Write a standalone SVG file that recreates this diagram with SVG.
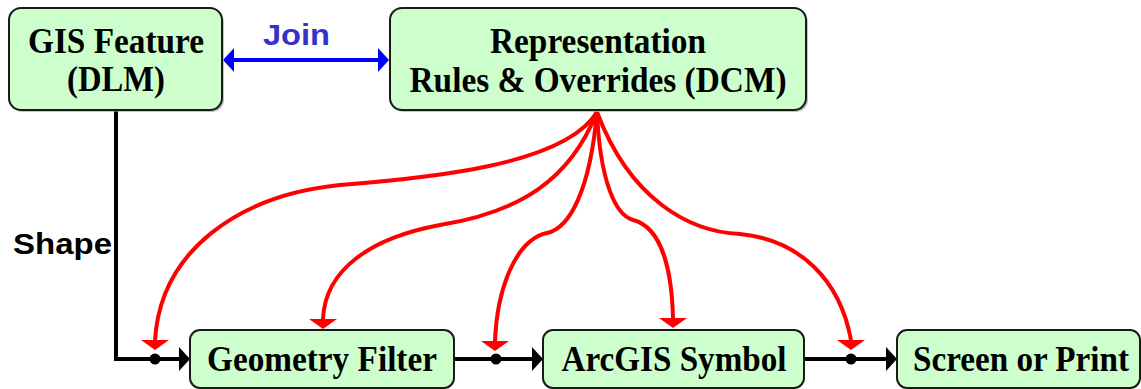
<svg xmlns="http://www.w3.org/2000/svg" xmlns:xlink="http://www.w3.org/1999/xlink" width="1141" height="389" viewBox="0 0 1141 389">
<style>
.box{fill:#ccffcc;stroke:#1a1a1a;stroke-width:2}
.sh{fill:#9a9a9a;opacity:0.6}
.t{font-family:"Liberation Serif","Times New Roman",serif;font-weight:bold;font-size:35px;fill:#000;text-anchor:middle}
.lbl{font-family:"Liberation Sans",Arial,sans-serif;font-weight:bold;font-size:29px}
.red{fill:none;stroke:#ff0000;stroke-width:4}
.blk{fill:none;stroke:#000;stroke-width:4}
</style>
<defs>
<path id="rh" d="M-14,0 H14 L0,10 Z" fill="#ff0000"/>
<path id="bh" d="M-11,-12 L0,0 L-11,12 Z" fill="#000"/>
</defs>
<g id="connectors">
<path class="blk" d="M116,110 V359 H182"/>
<use xlink:href="#bh" x="190" y="359"/>
<path class="blk" d="M454,359 H535"/>
<use xlink:href="#bh" x="543" y="359"/>
<path class="blk" d="M804,359 H889"/>
<use xlink:href="#bh" x="897" y="359"/>
<path d="M232,60 H380" stroke="#0000ff" stroke-width="4" fill="none"/>
<path d="M223,60 L234,48 V72 Z" fill="#0000ff"/>
<path d="M389,60 L378,48 V72 Z" fill="#0000ff"/>
<path class="red" d="M597,112 C565,165 430,178 340,185 C240,195 160,250 155,341"/>
<path class="red" d="M597,112 C570,180 520,212 440,225 C370,238 325,270 323,319"/>
<path class="red" d="M597,112 C590,190 570,228 547,233 C515,240 497,290 495,341"/>
<path class="red" d="M597,112 C600,180 615,215 633,220 C665,228 672,280 673,318"/>
<path class="red" d="M597,112 C630,200 690,232 740,234 C800,240 840,280 851,340"/>
<use xlink:href="#rh" x="155" y="340"/>
<use xlink:href="#rh" x="323" y="319"/>
<use xlink:href="#rh" x="495" y="341"/>
<use xlink:href="#rh" x="673" y="318"/>
<use xlink:href="#rh" x="851" y="340"/>
<circle cx="155" cy="359" r="5.5" fill="#000"/>
<circle cx="496" cy="359" r="5.5" fill="#000"/>
<circle cx="851" cy="359" r="5.5" fill="#000"/>
<text class="lbl" x="263" y="45" fill="#3333cc" textLength="67" lengthAdjust="spacingAndGlyphs">Join</text>
<text class="lbl" x="13" y="254" fill="#000" textLength="99" lengthAdjust="spacingAndGlyphs">Shape</text>
</g>
<g id="gis">
<rect class="sh" x="11" y="10" width="213" height="102" rx="12"/>
<rect class="box" x="9" y="8" width="213" height="102" rx="12"/>
<text class="t" x="116" y="53" textLength="176" lengthAdjust="spacingAndGlyphs">GIS Feature</text>
<text class="t" x="116" y="91" textLength="98" lengthAdjust="spacingAndGlyphs">(DLM)</text>
</g>
<g id="rep">
<rect class="sh" x="392" y="10" width="416" height="102" rx="12"/>
<rect class="box" x="390" y="8" width="416" height="102" rx="12"/>
<text class="t" x="598" y="53" textLength="216" lengthAdjust="spacingAndGlyphs">Representation</text>
<text class="t" x="598" y="92" textLength="377" lengthAdjust="spacingAndGlyphs">Rules &amp; Overrides (DCM)</text>
</g>
<g id="geom">
<rect class="box" x="190" y="330" width="264" height="58" rx="10"/>
<text class="t" x="322" y="371" textLength="230" lengthAdjust="spacingAndGlyphs">Geometry Filter</text>
</g>
<g id="arcgis">
<rect class="box" x="543" y="330" width="261" height="58" rx="10"/>
<text class="t" x="674" y="371" textLength="225" lengthAdjust="spacingAndGlyphs">ArcGIS Symbol</text>
</g>
<g id="screen">
<rect class="box" x="897" y="330" width="243" height="58" rx="10"/>
<text class="t" x="1021" y="371" textLength="216" lengthAdjust="spacingAndGlyphs">Screen or Print</text>
</g>
</svg>
